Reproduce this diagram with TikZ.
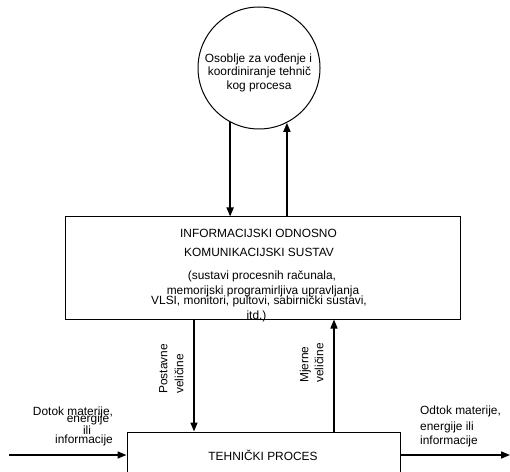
\documentclass[tikz,border=0pt]{standalone}
\usepackage{fontspec}
\setmainfont{Liberation Sans}
\usetikzlibrary{arrows.meta}
\tikzset{
  lbl/.style={inner sep=0pt, text height=0.7em, text depth=0pt, font=\fontsize{11.9bp}{14bp}\selectfont},
  boxed/.style={draw, line width=1bp, inner sep=0pt},
  arr/.style={line width=1.6bp, -{Triangle[length=9bp,width=7bp]}},
}
\begin{document}
\begin{tikzpicture}[x=1bp,y=-1bp]
\useasboundingbox (0,0) rectangle (510,472);
\clip (0,0) rectangle (510,472);
% circle
\node[boxed, circle, minimum size=122bp] (pers) at (259,68) {};
\node[lbl] (p1) at (258.5,59) {Osoblje za vođenje i};
\node[lbl] (p2) at (259.5,72.5) {koordiniranje tehnič};
\node[lbl] (p3) at (259,86) {kog procesa};
% info box
\node[boxed, rectangle, minimum width=394bp, minimum height=102bp] (ibox) at (263,268) {};
\node[lbl] (i1) at (258.5,234) {INFORMACIJSKI ODNOSNO};
\node[lbl] (i2) at (259,253) {KOMUNIKACIJSKI SUSTAV};
\node[lbl] (i3) at (262,276) {(sustavi procesnih računala,};
\node[lbl] (i4) at (263,291) {memorijski programirljiva upravljanja};
\node[lbl] (i5) at (259,301) {VLSI, monitori, pultovi, sabirnički sustavi,};
\node[lbl] (i6) at (256.5,316) {itd.)};
% technical process box
\node[boxed, rectangle, minimum width=273bp, minimum height=50bp] (tbox) at (263.5,457) {};
\node[lbl] (t1) at (263,457) {TEHNIČKI PROCES};
% arrows circle <-> info box
\draw[arr] (pers.242.6) -- (pers.242.6 |- ibox.north);
\draw[arr] (pers.297.4 |- ibox.north) -- (pers.297.4);
% arrows info box <-> tech box
\coordinate (xa) at (194,0);
\coordinate (xb) at (334,0);
\draw[arr] (ibox.south -| xa) -- (tbox.north -| xa);
\draw[arr] (tbox.north -| xb) -- (ibox.south -| xb);
% rotated labels
\node[lbl, rotate=90, anchor=west] (s1) at (164,394) {Postavne};
\node[lbl, rotate=90, anchor=west] (s2) at (180,394) {veličine};
\node[lbl, rotate=90, anchor=west] (m1) at (305,383) {Mjerne};
\node[lbl, rotate=90, anchor=west] (m2) at (320,383) {veličine};
% in/out flows
\coordinate (inS) at (9,455);
\coordinate (outE) at (510,455);
\draw[arr] (inS) -- (inS -| tbox.west);
\draw[arr] (outE -| tbox.east) -- (outE);
\node[lbl] (d1) at (73,412) {Dotok materije,};
\node[lbl] (d2) at (88,419.5) {energije};
\node[lbl] (d3) at (87,431) {ili};
\node[lbl] (d4) at (84,440) {informacije};
\node[lbl, anchor=west] (o1) at (420,411) {Odtok materije,};
\node[lbl, anchor=west] (o2) at (420,427) {energije ili};
\node[lbl, anchor=west] (o3) at (420,441) {informacije};
\end{tikzpicture}
\end{document}
